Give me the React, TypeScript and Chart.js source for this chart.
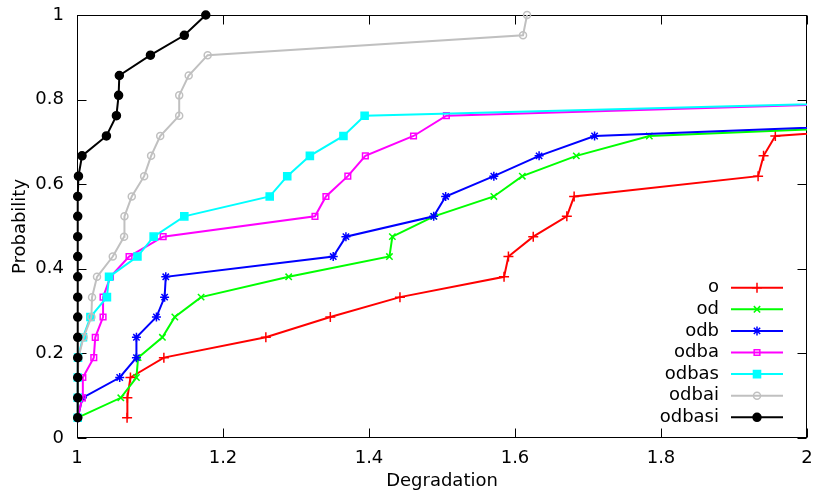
import React, { useEffect, useRef } from 'react';
import { Chart, registerables } from 'chart.js';
import { drawPoint } from 'chart.js/helpers';

Chart.register(...registerables);

// Cumulative probability levels (21 instances)
const probability = [
  0.048, 0.095, 0.143, 0.19, 0.238, 0.286, 0.333, 0.381, 0.429, 0.476, 0.524,
  0.571, 0.619, 0.667, 0.714, 0.762, 0.81, 0.857, 0.905, 0.952, 1.0,
];

const seriesNames = ['o', 'od', 'odb', 'odba', 'odbas', 'odbai', 'odbasi'];

const degO = [1.0686, 1.069, 1.0732, 1.119, 1.2587, 1.347, 1.4424, 1.585, 1.591, 1.625, 1.671, 1.681, 1.933, 1.9405, 1.9566, 2.34];
const degOd = [1.001, 1.06, 1.0814, 1.0837, 1.117, 1.134, 1.17, 1.29, 1.428, 1.432, 1.489, 1.571, 1.61, 1.684, 1.784, 2.47];
const degOdb = [1.001, 1.0074, 1.0585, 1.0814, 1.0814, 1.1088, 1.12, 1.1216, 1.351, 1.3684, 1.4886, 1.505, 1.571, 1.633, 1.709, 2.42];
const degOdba = [1.001, 1.0074, 1.008, 1.023, 1.025, 1.0357, 1.0357, 1.0458, 1.0713, 1.118, 1.326, 1.341, 1.371, 1.395, 1.461, 1.506, 2.45];
const degOdbas = [1.001, 1.001, 1.001, 1.0014, 1.0082, 1.0184, 1.041, 1.0439, 1.0828, 1.105, 1.147, 1.264, 1.288, 1.319, 1.365, 1.394, 2.48];
const degOdbai = [1.001, 1.001, 1.001, 1.002, 1.009, 1.0197, 1.0206, 1.0274, 1.049, 1.0645, 1.065, 1.075, 1.092, 1.1015, 1.114, 1.14, 1.14, 1.153, 1.179, 1.611, 1.6165];
const degOdbasi = [1.001, 1.001, 1.001, 1.001, 1.001, 1.001, 1.001, 1.001, 1.001, 1.001, 1.001, 1.001, 1.002, 1.0069, 1.0403, 1.054, 1.057, 1.058, 1.1006, 1.147, 1.1764];

const xTicks = [1, 1.2, 1.4, 1.6, 1.8, 2];
const yTicks = [0, 0.2, 0.4, 0.6, 0.8, 1];

const seriesValues = [degO, degOd, degOdb, degOdba, degOdbas, degOdbai, degOdbasi];
const seriesColors = ['#ff0000', '#00ff00', '#0000ff', '#ff00ff', '#00ffff', '#c0c0c0', '#000000'];
const seriesStyles = [
  { pointStyle: 'cross', radius: 5, fill: false },
  { pointStyle: 'crossRot', radius: 4.5, fill: false },
  { pointStyle: 'star', radius: 4.5, fill: false },
  { pointStyle: 'rect', radius: 4, fill: false },
  { pointStyle: 'rect', radius: 5, fill: true },
  { pointStyle: 'circle', radius: 3.5, fill: false },
  { pointStyle: 'circle', radius: 4, fill: true },
];

const FONT = 'DejaVu Sans';

const framePlugin = {
  id: 'frame',
  beforeDatasetsDraw(chart: any) {
    const { ctx, chartArea: a, scales } = chart;
    ctx.save();
    ctx.strokeStyle = '#000';
    ctx.lineWidth = 1;
    const L = Math.round(a.left) + 0.5;
    const R = Math.round(a.right) - 0.5;
    const T = Math.round(a.top) + 0.5;
    const B = Math.round(a.bottom) - 0.5;
    ctx.strokeRect(L, T, R - L, B - T);
    const tl = 9;
    ctx.beginPath();
    xTicks.forEach((v) => {
      const px = Math.round(scales.x.getPixelForValue(v)) + 0.5;
      ctx.moveTo(px, B);
      ctx.lineTo(px, B - tl);
      ctx.moveTo(px, T);
      ctx.lineTo(px, T + tl);
    });
    yTicks.forEach((v) => {
      const py = Math.round(scales.y.getPixelForValue(v)) + 0.5;
      ctx.moveTo(L, py);
      ctx.lineTo(L + tl, py);
      ctx.moveTo(R, py);
      ctx.lineTo(R - tl, py);
    });
    ctx.stroke();
    ctx.restore();
  },
};

const keyPlugin = {
  id: 'gnukey',
  afterDatasetsDraw(chart: any) {
    const { ctx, chartArea: a } = chart;
    ctx.save();
    ctx.font = `18px "${FONT}"`;
    ctx.textAlign = 'right';
    ctx.textBaseline = 'middle';
    chart.data.datasets.forEach((ds: any, i: number) => {
      const y = a.bottom - 150.3 + i * 21.6;
      ctx.fillStyle = '#000';
      ctx.fillText(ds.label, a.right - 88, y);
      ctx.strokeStyle = ds.borderColor;
      ctx.lineWidth = ds.borderWidth;
      ctx.beginPath();
      ctx.moveTo(a.right - 76, y);
      ctx.lineTo(a.right - 24, y);
      ctx.stroke();
      ctx.fillStyle = ds.pointBackgroundColor;
      ctx.strokeStyle = ds.pointBorderColor;
      ctx.lineWidth = ds.pointBorderWidth;
      drawPoint(ctx, { pointStyle: ds.pointStyle, radius: ds.pointRadius, rotation: 0, borderWidth: ds.pointBorderWidth }, a.right - 50, y);
    });
    ctx.restore();
  },
};

export default function App() {
  const ref = useRef<HTMLCanvasElement>(null);
  useEffect(() => {
    if (!ref.current) return;
    const datasets = seriesNames.map((name, i) => ({
      label: name,
      data: seriesValues[i].map((x, k) => ({ x, y: probability[k] })),
      borderColor: seriesColors[i],
      backgroundColor: seriesColors[i],
      borderWidth: 2,
      pointStyle: seriesStyles[i].pointStyle,
      pointRadius: seriesStyles[i].radius,
      pointBorderWidth: 1.5,
      pointBorderColor: seriesColors[i],
      pointBackgroundColor: seriesStyles[i].fill ? seriesColors[i] : 'rgba(255,255,255,0)',
      tension: 0,
      order: seriesNames.length - 1 - i,
      clip: { left: 10, top: 10, right: 0, bottom: 10 },
    }));
    const chart = new Chart(ref.current, {
      type: 'line',
      data: { datasets },
      options: {
        responsive: false,
        animation: false,
        events: [],
        layout: { padding: { left: 0, top: 15, right: 9, bottom: 0 } },
        plugins: { legend: { display: false }, tooltip: { enabled: false } },
        scales: {
          x: {
            type: 'linear',
            min: 1,
            max: 2,
            afterBuildTicks: (s: any) => { s.ticks = xTicks.map((v) => ({ value: v })); },
            afterFit: (s: any) => { s.height = 54; s.paddingLeft = 0; s.paddingRight = 0; },
            grid: { display: false, drawTicks: false },
            border: { display: false },
            ticks: {
              color: '#000',
              padding: 10,
              maxRotation: 0,
              font: { family: FONT, size: 18 },
              callback: (v: any) => String(v),
            },
            title: { display: true, text: 'Degradation', color: '#000', font: { family: FONT, size: 18 }, padding: { top: 0, bottom: 0 } },
          },
          y: {
            type: 'linear',
            min: 0,
            max: 1,
            afterBuildTicks: (s: any) => { s.ticks = yTicks.map((v) => ({ value: v })); },
            afterFit: (s: any) => { s.width = 77; s.paddingTop = 0; s.paddingBottom = 0; },
            grid: { display: false, drawTicks: false },
            border: { display: false },
            ticks: {
              color: '#000',
              padding: 13,
              font: { family: FONT, size: 18 },
              callback: (v: any) => String(v),
            },
            title: { display: true, text: 'Probability', color: '#000', font: { family: FONT, size: 18 }, padding: { top: 10, bottom: 0 } },
          },
        },
      },
      plugins: [framePlugin, keyPlugin],
    } as any);
    return () => chart.destroy();
  }, []);
  return (
    <div style={{ position: 'fixed', left: 0, top: 0, width: 816, height: 492, background: '#fff' }}>
      <canvas ref={ref} width={816} height={492} style={{ display: 'block' }} />
    </div>
  );
}
